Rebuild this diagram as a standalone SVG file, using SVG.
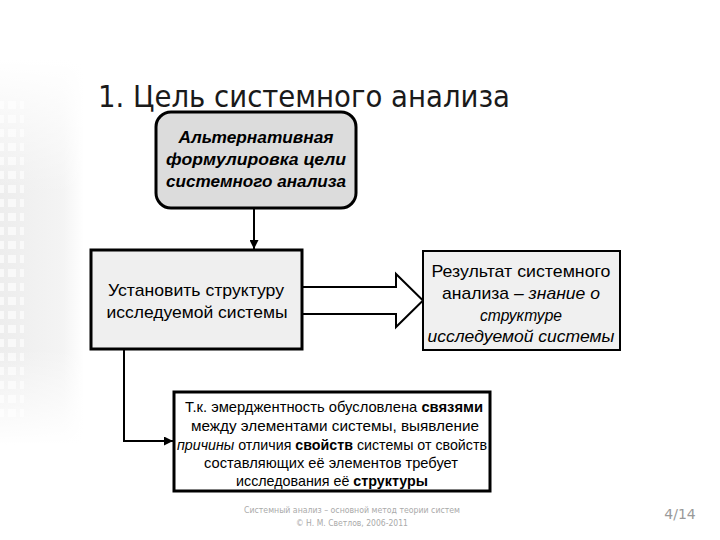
<svg xmlns="http://www.w3.org/2000/svg" width="720" height="540" viewBox="0 0 720 540">
<defs>
<linearGradient id="band" x1="0" y1="0" x2="1" y2="0">
<stop offset="0" stop-color="#ededed"/>
<stop offset="0.75" stop-color="#f4f4f4"/>
<stop offset="1" stop-color="#ffffff"/>
</linearGradient>
<linearGradient id="fade" x1="0" y1="0" x2="0" y2="1">
<stop offset="0" stop-color="#ffffff" stop-opacity="1"/>
<stop offset="0.35" stop-color="#ffffff" stop-opacity="0"/>
<stop offset="0.75" stop-color="#ffffff" stop-opacity="0"/>
<stop offset="1" stop-color="#ffffff" stop-opacity="1"/>
</linearGradient>
<pattern id="sq" x="6" y="0" width="12" height="14" patternUnits="userSpaceOnUse">
<rect x="2" y="3" width="8" height="8" fill="#f9f9f9"/>
</pattern>
<marker id="ah" viewBox="0 0 10 10" refX="10" refY="5" markerWidth="5" markerHeight="4.5" orient="auto" markerUnits="strokeWidth">
<path d="M0,0 L10,5 L0,10 z" fill="#000"/>
</marker>
<style>
.t{font-family:"Liberation Sans",Arial,sans-serif;fill:#000;text-anchor:middle}
.b1{font-weight:bold;font-style:italic;font-size:17px}
.n{font-size:17px}
.s{font-size:15px}
.it{font-style:italic}
.bd{font-weight:bold}
.box{stroke:#000;stroke-width:3}
.con{fill:none;stroke:#000;stroke-width:2}
.foot{font-family:"DejaVu Sans",Verdana,sans-serif;fill:#aaa;text-anchor:middle}
</style>
</defs>
<rect width="720" height="540" fill="#fff"/>
<g id="decor">
<rect x="0" y="60" width="84" height="385" fill="url(#band)"/>
<rect x="0" y="100" width="24" height="320" fill="url(#sq)"/>
<rect x="0" y="60" width="84" height="385" fill="url(#fade)"/>
</g>
<text id="title" x="98" y="107" font-family="DejaVu Sans, Verdana, sans-serif" font-size="30" fill="#1a1a1a" textLength="412" lengthAdjust="spacingAndGlyphs">1. Цель системного анализа</text>
<g id="connectors">
<line class="con" x1="254" y1="209" x2="254" y2="249" marker-end="url(#ah)"/>
<polyline class="con" points="124,349 124,441 173,441" marker-end="url(#ah)"/>
<path d="M302,287 H396 V274 L423,300.5 L396,327 V314 H302" fill="#fff" stroke="#000" stroke-width="2"/>
</g>
<g id="goal">
<rect class="box" x="156" y="112" width="200" height="96" rx="15" fill="#dcdcdc"/>
<text class="t b1" x="256" y="143" textLength="155" lengthAdjust="spacingAndGlyphs">Альтернативная</text>
<text class="t b1" x="256" y="165" textLength="180" lengthAdjust="spacingAndGlyphs">формулировка цели</text>
<text class="t b1" x="256" y="187" textLength="180" lengthAdjust="spacingAndGlyphs">системного анализа</text>
</g>
<g id="task">
<rect class="box" x="91" y="250" width="211" height="99" fill="#efefef"/>
<text class="t n" x="196" y="296" textLength="176" lengthAdjust="spacingAndGlyphs">Установить структуру</text>
<text class="t n" x="197" y="318" textLength="181" lengthAdjust="spacingAndGlyphs">исследуемой системы</text>
</g>
<g id="result">
<rect x="423" y="251" width="197" height="99" fill="#f0f0f0" stroke="#000" stroke-width="2"/>
<text class="t n" x="521" y="277" textLength="179" lengthAdjust="spacingAndGlyphs">Результат системного</text>
<text class="t n" x="521" y="299" textLength="158" lengthAdjust="spacingAndGlyphs">анализа <tspan class="it">– знание о</tspan></text>
<text class="t n it" x="521" y="321" textLength="82" lengthAdjust="spacingAndGlyphs">структуре</text>
<text class="t n it" x="521" y="342" textLength="187" lengthAdjust="spacingAndGlyphs">исследуемой системы</text>
</g>
<g id="reason">
<rect class="box" x="174" y="392" width="316" height="99" fill="#fff"/>
<text class="t s" x="334" y="412" textLength="298" lengthAdjust="spacingAndGlyphs">Т.к. эмерджентность обусловлена <tspan class="bd">связями</tspan></text>
<text class="t s" x="335" y="431" textLength="288" lengthAdjust="spacingAndGlyphs">между элементами системы, выявление</text>
<text class="t s" x="332" y="450" textLength="310" lengthAdjust="spacingAndGlyphs"><tspan class="it">причины</tspan> отличия <tspan class="bd">свойств</tspan> системы от свойств</text>
<text class="t s" x="331" y="468" textLength="254" lengthAdjust="spacingAndGlyphs">составляющих её элементов требует</text>
<text class="t s" x="332" y="486" textLength="192" lengthAdjust="spacingAndGlyphs">исследования её <tspan class="bd">структуры</tspan></text>
</g>
<g id="footer">
<text class="foot" x="352" y="513" font-size="8.5" textLength="216" lengthAdjust="spacingAndGlyphs">Системный анализ – основной метод теории систем</text>
<text class="foot" x="352" y="526" font-size="8.5" textLength="112" lengthAdjust="spacingAndGlyphs">© Н. М. Светлов, 2006-2011</text>
<text x="680" y="519" font-family="DejaVu Sans, Verdana, sans-serif" font-size="14" fill="#999" text-anchor="middle">4/14</text>
</g>
</svg>
